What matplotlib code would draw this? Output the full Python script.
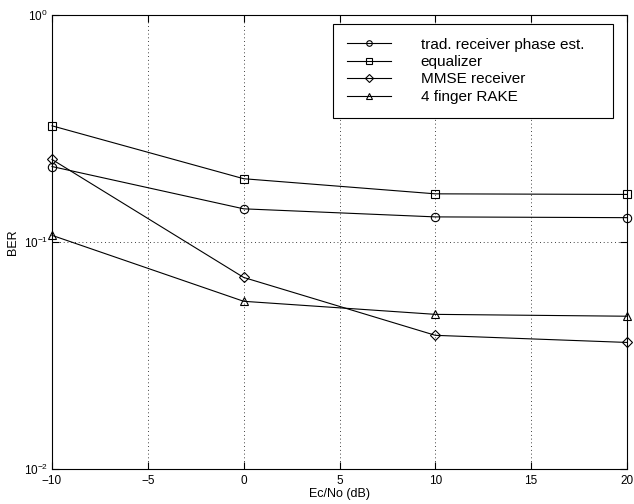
import matplotlib
matplotlib.use('Agg')
from matplotlib import pyplot as plt

plt.rcParams['font.family'] = ['Liberation Sans', 'DejaVu Sans']

EC_NO = [-10, 0, 10, 20]
TRAD = [0.215, 0.140, 0.129, 0.128]
EQUALIZER = [0.325, 0.190, 0.163, 0.162]
MMSE = [0.231, 0.0698, 0.0388, 0.0361]
RAKE = [0.107, 0.0548, 0.0480, 0.0471]

LABELS = ['trad. receiver phase est.', 'equalizer', 'MMSE receiver', '4 finger RAKE']
MARKERS = ['o', 's', 'D', '^']


def main():
    W, H = 634, 504
    fig = plt.figure(figsize=(W / 100, H / 100), dpi=100)
    ax = fig.add_axes([52 / W, 1 - 469 / H, 575 / W, 454 / H])
    for series, label, marker in zip([TRAD, EQUALIZER, MMSE, RAKE], LABELS, MARKERS):
        ms = 5 if marker == 'D' else 6
        ax.semilogy(EC_NO, series, color='black', lw=0.8, marker=marker,
                    markersize=ms, markerfacecolor='none', markeredgewidth=0.8,
                    label=label, clip_on=False)
    ax.set_xlim(-10, 20)
    ax.set_ylim(1e-2, 1e0)
    ax.set_xticks([-10, -5, 0, 5, 10, 15, 20])
    ax.set_xticklabels(['\u221210', '\u22125', '0', '5', '10', '15', '20'])
    ax.minorticks_off()
    ax.grid(True, which='major', linestyle=(0, (1, 3.5)), color='black', lw=0.6)
    ax.tick_params(direction='in', labelsize=8.5, top=True, right=True, length=5, pad=3)
    ax.tick_params(axis='x', pad=4)
    for s in ax.spines.values():
        s.set_linewidth(0.8)
    ax.set_xlabel('Ec/No (dB)', fontsize=9, labelpad=1)
    ax.set_ylabel('BER', fontsize=9, labelpad=3)

    leg = ax.legend(loc='upper left', mode='expand',
                    bbox_to_anchor=(333 / W, 1 - 117 / H, 280 / W, 93 / H),
                    bbox_transform=fig.transFigure, borderaxespad=0,
                    fontsize=11, fancybox=False, framealpha=1, edgecolor='black',
                    handlelength=2.9, handletextpad=1.96, labelspacing=0.225,
                    borderpad=0.89)
    leg.get_frame().set_linewidth(0.8)
    for h in leg.legend_handles:
        h.set_markersize(4)
    fig.savefig('out.png', dpi=100)


if __name__ == '__main__':
    main()
